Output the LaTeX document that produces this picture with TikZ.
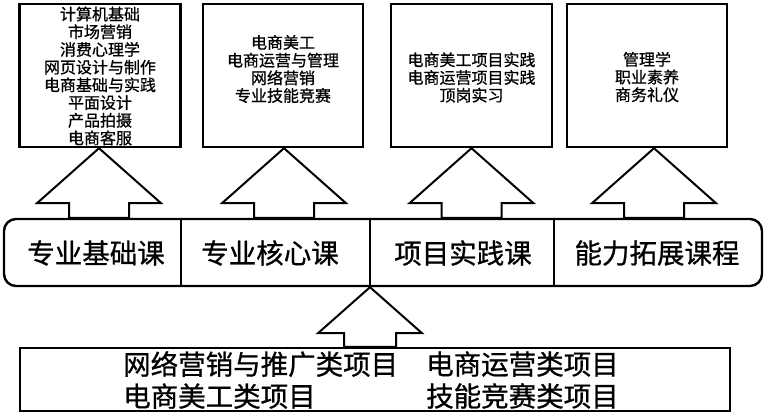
\documentclass[tikz,border=0pt]{standalone}
\usepackage{fontspec}
\setmainfont{Noto Sans CJK SC}[FakeBold=0.8,AutoFakeBold=0.8]
\usetikzlibrary{calc}
\begin{document}
\begin{tikzpicture}[x=1pt,y=-1pt,
  box/.style={draw,line width=2.4pt,minimum width=161pt,minimum height=143pt,inner sep=0pt},
  small/.style={align=center,font=\fontsize{16}{17.7}\selectfont,inner sep=0pt},
  big/.style={font=\fontsize{27.5}{32}\selectfont,inner sep=0pt},
  blockarrow/.style={draw,line width=2pt,fill=white,line join=miter},
  divider/.style={draw,line width=1.5pt}]
\useasboundingbox (0,0) rectangle (768,415);
% top boxes
\node[box] (b1) at (100,75.5) {};
\node[box,minimum width=160pt] (b2) at (283,75.5) {};
\node[box] (b3) at (471.5,75.5) {};
\node[box,minimum width=160pt] (b4) at (647,75.5) {};
\node[small] (t1) at (100,76) {计算机基础\\市场营销\\消费心理学\\网页设计与制作\\电商基础与实践\\平面设计\\产品拍摄\\电商客服};
\node[small] (t2) at (283,69) {电商美工\\电商运营与管理\\网络营销\\专业技能竞赛};
\node[small] (t3) at (471.5,77.5) {电商美工项目实践\\电商运营项目实践\\顶岗实习};
\node[small] (t4) at (647,77) {管理学\\职业素养\\商务礼仪};
% band
\node[draw,line width=2.4pt,rounded corners=12pt,minimum width=758pt,minimum height=67pt,inner sep=0pt] (band) at (383,252.5) {};
\foreach \x in {181,370,554} {
  \draw[divider] (\x,0 |- band.north) -- (\x,0 |- band.south);
}
\node[big] (c1) at (96,253) {专业基础课};
\node[big] (c2) at (270,253) {专业核心课};
\node[big] (c3) at (463,253) {项目实践课};
\node[big] (c4) at (657,253) {能力拓展课程};
% bottom box
\node[draw,line width=2.4pt,minimum width=710pt,minimum height=63pt,inner sep=0pt] (bot) at (375,379.5) {};
\node[big,align=left,anchor=west] (p1) at (123,380) {网络营销与推广类项目\\电商美工类项目};
\node[big,align=left,anchor=west] (p2) at (426,380) {电商运营类项目\\技能竞赛类项目};
% top arrows
\foreach \b/\dx in {b1/-1,b2/1,b3/0,b4/7} {
  \coordinate (tip) at ($(\b.south)+(\dx,0)$);
  \coordinate (foot) at (tip |- band.north);
  \draw[blockarrow] (tip) -- ($(tip)+(62,55)$) -- ($(tip)+(30,55)$) -- ($(foot)+(30,0)$)
     -- ($(foot)+(-30,0)$) -- ($(tip)+(-30,55)$) -- ($(tip)+(-62,55)$) -- cycle;
}
% bottom arrow
\coordinate (btip) at (370,0 |- band.south);
\coordinate (bfoot) at (btip |- bot.north);
\draw[blockarrow] (btip) -- ($(btip)+(52,46)$) -- ($(btip)+(26,46)$) -- ($(bfoot)+(26,0)$)
   -- ($(bfoot)+(-26,0)$) -- ($(btip)+(-26,46)$) -- ($(btip)+(-52,46)$) -- cycle;
\end{tikzpicture}
\end{document}
